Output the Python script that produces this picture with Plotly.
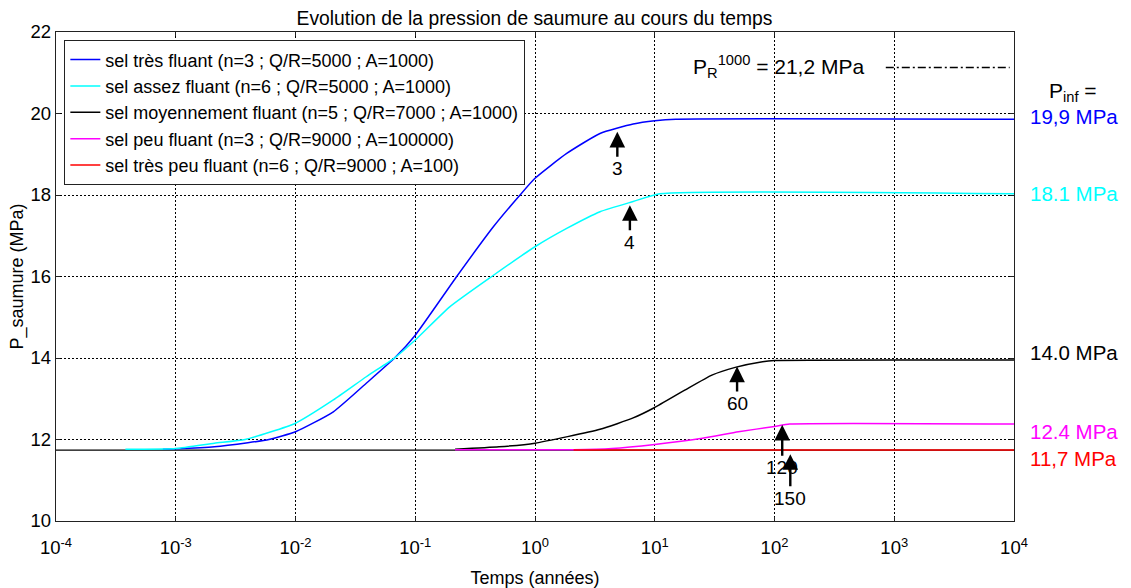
import math
import plotly.graph_objects as go

# ---------------- data ----------------
blue_t = [7.8e-4, 1e-3, 2.1e-3, 4e-3, 6e-3, 0.01, 0.0207, 0.039, 0.0678, 0.1, 0.222, 0.449, 0.75, 1.0, 1.84, 3.49, 6.6, 10, 15, 1e4]
blue_v = [11.76, 11.77, 11.82, 11.92, 12.0, 12.19, 12.68, 13.38, 14.01, 14.56, 16.0, 17.22, 18.0, 18.41, 19.02, 19.51, 19.74, 19.82, 19.86, 19.86]

cyan_t = [3.8e-4, 1e-3, 2.1e-3, 3.8e-3, 0.01, 0.0207, 0.039, 0.0678, 0.1, 0.195, 0.435, 1.0, 1.84, 3.49, 6.6, 11, 1e4]
cyan_v = [11.76, 11.78, 11.91, 12.0, 12.4, 12.97, 13.54, 14.01, 14.44, 15.26, 16.0, 16.73, 17.18, 17.59, 17.84, 18.03, 18.03]

black_t = [0.215, 0.5, 1.0, 3.49, 6.6, 9.9, 17.8, 30, 47, 79.4, 100, 1e4]
black_v = [11.76, 11.82, 11.91, 12.25, 12.53, 12.78, 13.21, 13.58, 13.77, 13.91, 13.94, 13.95]

magenta_t = [0.215, 2.1, 4.4, 10, 25, 50, 100, 134, 1e4]
magenta_v = [11.75, 11.75, 11.78, 11.88, 12.03, 12.19, 12.32, 12.38, 12.38]

red_t = [2.1, 1e4]
red_v = [11.74, 11.74]

initial_t = [1e-4, 1e4]
initial_v = [11.74, 11.74]

pr_t = [850, 9200]
pr_v = [21.13, 21.13]
pr_label = "P<sub>R</sub><sup>1000</sup> = 21,2 MPa"
pr_label_t = 109

series_names = [
    "sel très fluant (n=3 ; Q/R=5000 ; A=1000)",
    "sel assez fluant (n=6 ; Q/R=5000 ; A=1000)",
    "sel moyennement fluant (n=5 ; Q/R=7000 ; A=1000)",
    "sel peu fluant (n=3 ; Q/R=9000 ; A=100000)",
    "sel très peu fluant (n=6 ; Q/R=9000 ; A=100)",
]
series_colors = ["#0000FF", "#00FFFF", "#000000", "#FF00FF", "#FF0000"]

arrow_t = [4.87, 6.2, 48.7, 116, 135.5]
arrow_v = [19.55, 17.75, 13.79, 12.36, 11.64]
arrow_labels = ["3", "4", "60", "120", "150"]

pinf_levels = [19.86, 18.03, 13.95, 12.38, 11.74]
pinf_labels = ["19,9 MPa", "18.1 MPa", "14.0 MPa", "12.4 MPa", "11,7 MPa"]

x_tick_vals = [1e-4, 1e-3, 1e-2, 1e-1, 1e0, 1e1, 1e2, 1e3, 1e4]
x_tick_labels = ["10<sup>-4</sup>", "10<sup>-3</sup>", "10<sup>-2</sup>", "10<sup>-1</sup>",
                 "10<sup>0</sup>", "10<sup>1</sup>", "10<sup>2</sup>", "10<sup>3</sup>", "10<sup>4</sup>"]
y_tick_vals = [10, 12, 14, 16, 18, 20, 22]

# ---------------- figure ----------------
FONT = "Liberation Sans, Arial, sans-serif"
fig = go.Figure()

fig.add_trace(go.Scatter(x=initial_t, y=initial_v, mode="lines",
                         line=dict(color="black", width=1.3), showlegend=False, hoverinfo="skip"))

for t, v, name, col in zip([blue_t, cyan_t, black_t, magenta_t, red_t],
                           [blue_v, cyan_v, black_v, magenta_v, red_v],
                           series_names, series_colors):
    fig.add_trace(go.Scatter(x=t, y=v, mode="lines", name=name,
                             line=dict(color=col, width=1.5, shape="spline", smoothing=0.5)))

fig.add_trace(go.Scatter(x=pr_t, y=pr_v, mode="lines", showlegend=False,
                         line=dict(color="black", width=1.4, dash="8px,3px,2px,3px"), hoverinfo="skip"))

annotations = []
label_offsets = [37, 37, 37, 43, 44]
for t, v, lab, off in zip(arrow_t, arrow_v, arrow_labels, label_offsets):
    annotations.append(dict(x=math.log10(t), y=v, xref="x", yref="y", text=lab, showarrow=True,
                            ax=0, ay=off, arrowhead=2, arrowsize=1.3, arrowwidth=2.4,
                            arrowcolor="black", font=dict(size=19, color="black", family=FONT)))

pinf_shifts = [3, 0, 8, -7, -8]
for lvl, lab, col, sh in zip(pinf_levels, pinf_labels, series_colors, pinf_shifts):
    annotations.append(dict(x=1.0146, y=lvl, xref="paper", yref="y", text=lab, showarrow=False,
                            xanchor="left", yanchor="middle", yshift=sh,
                            font=dict(size=20.5, color=col, family=FONT)))

annotations.append(dict(x=1.0615, y=0.878, xref="paper", yref="paper", text="P<sub>inf</sub> =",
                        showarrow=False, xanchor="center", yanchor="middle",
                        font=dict(size=21, color="black", family=FONT)))
annotations.append(dict(x=math.log10(pr_label_t), y=21.15, xref="x", yref="y", text=pr_label,
                        showarrow=False, xanchor="center", yanchor="middle",
                        font=dict(size=21, color="black", family=FONT)))

axis_common = dict(showline=True, linecolor="#222222", linewidth=1.3, mirror="ticks",
                   ticks="inside", ticklen=4, tickcolor="#222222", automargin=False,
                   showgrid=True, gridcolor="black", gridwidth=1, griddash="2px,2px",
                   zeroline=False, tickfont=dict(size=18.5, color="black", family=FONT))

fig.update_layout(
    width=1131, height=588,
    margin=dict(l=56, r=117, t=32, b=67),
    paper_bgcolor="white", plot_bgcolor="white",
    font=dict(family=FONT, color="black"),
    title=dict(text="Evolution de la pression de saumure au cours du temps",
               x=0.4995, xref="paper", y=1 - 18.3 / 588, yref="container",
               xanchor="center", yanchor="middle",
               font=dict(size=19.3, color="black", family=FONT)),
    xaxis=dict(type="log", range=[-4, 4], tickvals=x_tick_vals, ticktext=x_tick_labels,
               ticklabelstandoff=10,
               title=dict(text="Temps (années)", font=dict(size=18, family=FONT), standoff=19),
               **axis_common),
    yaxis=dict(range=[10, 22], tickvals=y_tick_vals,
               title=dict(text="P_saumure (MPa)", font=dict(size=18, family=FONT), standoff=2),
               **axis_common),
    legend=dict(x=0.0084, y=0.9836, xanchor="left", yanchor="top",
                bgcolor="white", bordercolor="#222222", borderwidth=1.3,
                font=dict(size=18, color="black", family=FONT),
                tracegroupgap=0, itemwidth=30),
    annotations=annotations,
    showlegend=True,
)

fig.write_html("out.html")
